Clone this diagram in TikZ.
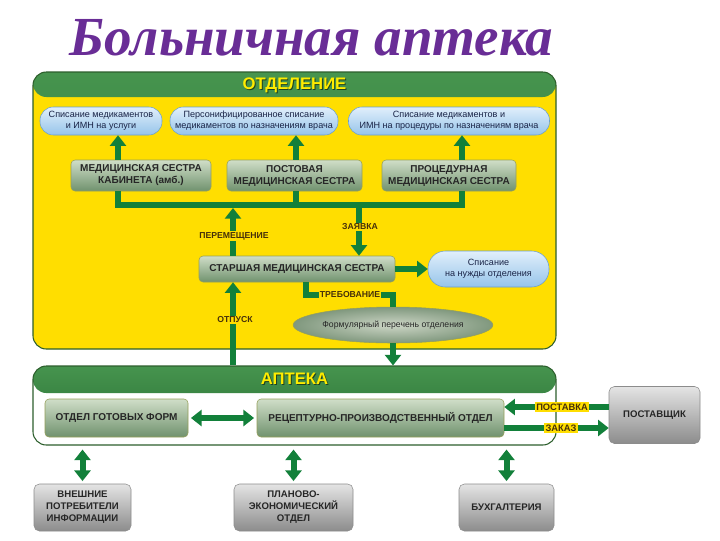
\documentclass[tikz,border=0pt]{standalone}
\usepackage{fontspec}
\setmainfont{Liberation Sans}
\newfontfamily\ttlfont{Liberation Serif}
\usetikzlibrary{arrows.meta,shapes.geometric,calc}
\definecolor{ylw}{RGB}{255,222,0}
\definecolor{grn}{RGB}{18,128,58}
\definecolor{hdTop}{RGB}{70,148,78}
\definecolor{hdBot}{RGB}{38,108,50}
\definecolor{pdk}{RGB}{45,95,45}
\definecolor{purp}{RGB}{105,45,150}
\definecolor{boxTop}{RGB}{208,222,200}
\definecolor{boxBot}{RGB}{112,146,110}
\definecolor{boxEdge}{RGB}{150,160,90}
\definecolor{pillTop}{RGB}{225,239,251}
\definecolor{pillBot}{RGB}{150,196,234}
\definecolor{pillEdge}{RGB}{105,158,205}
\definecolor{grayTop}{RGB}{228,228,228}
\definecolor{grayBot}{RGB}{140,140,140}
\definecolor{lblc}{RGB}{70,48,10}
\definecolor{hdtxt}{RGB}{255,236,0}
\tikzset{
  sz/.style 2 args={minimum width={#1*0.75pt},minimum height={#2*0.75pt}},
  panel/.style={rounded corners=10pt,draw=pdk,line width=0.8pt,inner sep=0pt},
  hdr/.style={path picture={\shade[top color=hdTop,bottom color=hdBot]
      (path picture bounding box.north west) rectangle
      ([yshift=-#1]path picture bounding box.north east);}},
  hdrtxt/.style={font=\bfseries\fontsize{12.5}{13}\selectfont,text=hdtxt,inner sep=0pt},
  hdrsh/.style={font=\bfseries\fontsize{12.5}{13}\selectfont,text=pdk!70!black,inner sep=0pt},
  gbox/.style={rounded corners=3pt,top color=boxTop,bottom color=boxBot,draw=boxEdge,
      line width=0.4pt,font=\bfseries\fontsize{7.5}{9}\selectfont,align=center,
      inner sep=0pt,text=black!85},
  pill/.style={rounded corners=10pt,top color=pillTop,bottom color=pillBot,draw=pillEdge,
      line width=0.4pt,font=\fontsize{6.8}{8.2}\selectfont,align=center,inner sep=0pt,
      text={rgb,255:red,25;green,35;blue,70}},
  ellbox/.style={ellipse,inner color={rgb,255:red,205;green,214;blue,198},
      outer color={rgb,255:red,128;green,152;blue,126},draw=boxEdge,line width=0.4pt,
      font=\fontsize{6.5}{8}\selectfont,inner sep=0pt,text=black!85},
  graybox/.style={rounded corners=4pt,top color=grayTop,bottom color=grayBot,
      draw=black!45,line width=0.4pt,font=\bfseries\fontsize{7.2}{9}\selectfont,
      align=center,inner sep=0pt,text=black!85},
  lbl/.style={fill=ylw,font=\bfseries\fontsize{6.5}{7}\selectfont,text=lblc,inner sep=1pt},
  bus/.style={draw=grn,line width=4.5pt},
  arr/.style={draw=grn,line width=4.5pt,-{Triangle[width=12pt,length=8pt]}},
  darr/.style={draw=grn,line width=4.5pt,{Triangle[width=12pt,length=8pt]}-{Triangle[width=12pt,length=8pt]}},
}
\begin{document}
\begin{tikzpicture}[x=0.75pt,y=-0.75pt]
\useasboundingbox[fill=white] (0,0) rectangle (720,540);

% title
\node[anchor=base,text=purp,font=\ttlfont\bfseries\itshape\fontsize{41.3}{42}\selectfont,inner sep=0pt]
  (title) at (311.5,55) {Больничная аптека};

% department panel
\node[panel,fill=ylw,sz={523}{277},hdr=18.75pt] (otd) at (294.5,210.5) {};
\node[hdrsh] (otdsh) at ($(294.5,85)+(0.7pt,-0.7pt)$) {ОТДЕЛЕНИЕ};
\node[hdrtxt] (otdh) at (294.5,85) {ОТДЕЛЕНИЕ};

\node[pill,sz={122}{28}] (p1) at (101,121) {Списание медикаментов\\и ИМН на услуги};
\node[pill,sz={168}{28}] (p2) at (254,121) {Персонифицированное списание\\медикаментов по назначениям врача};
\node[pill,sz={201}{28}] (p3) at (449,121) {Списание медикаментов и\\ИМН на процедуры по назначениям врача};

\node[gbox,sz={140}{31}] (b1) at (141,175.5) {МЕДИЦИНСКАЯ СЕСТРА\\КАБИНЕТА (амб.)};
\node[gbox,sz={135}{31}] (b2) at (294.5,175.5) {ПОСТОВАЯ\\МЕДИЦИНСКАЯ СЕСТРА};
\node[gbox,sz={134}{31}] (b3) at (449,175.5) {ПРОЦЕДУРНАЯ\\МЕДИЦИНСКАЯ СЕСТРА};

\node[gbox,sz={196}{26}] (sn) at (297,269) {СТАРШАЯ МЕДИЦИНСКАЯ СЕСТРА};
\node[pill,sz={121}{36},rounded corners=13pt] (p4) at (488.5,269) {Списание\\на нужды отделения};
\node[ellbox,sz={156}{36}] (ell) at (393,325) {Формулярный перечень отделения};

% pharmacy panel
\node[panel,fill=white,sz={523}{79},hdr=20.25pt] (apt) at (294.5,405.5) {};
\node[hdrsh] (aptsh) at ($(294.5,379)+(0.7pt,-0.7pt)$) {АПТЕКА};
\node[hdrtxt] (apth) at (294.5,379) {АПТЕКА};
\node[gbox,sz={143}{38}] (ogf) at (116.5,418) {ОТДЕЛ ГОТОВЫХ ФОРМ};
\node[gbox,sz={247}{38}] (rpo) at (380.5,418) {РЕЦЕПТУРНО-ПРОИЗВОДСТВЕННЫЙ ОТДЕЛ};

\node[graybox,sz={91}{57}] (post) at (654.5,415) {ПОСТАВЩИК};
\node[graybox,sz={97}{47}] (ext) at (82.5,507.5) {ВНЕШНИЕ\\ПОТРЕБИТЕЛИ\\ИНФОРМАЦИИ};
\node[graybox,sz={119}{47}] (plan) at (293.5,507.5) {ПЛАНОВО-\\ЭКОНОМИЧЕСКИЙ\\ОТДЕЛ};
\node[graybox,sz={95}{47}] (buh) at (506.5,507.5) {БУХГАЛТЕРИЯ};

% connectors in department
\coordinate (xA) at (118,205);
\coordinate (xB) at (296,205);
\coordinate (xC) at (462,205);
\draw[bus] (b1.south -| xA) -- (xA) -- (xC) -- (b3.south -| xC);
\draw[bus] (b2.south -| xB) -- (xB);
\draw[arr] (b1.north -| xA) -- (p1.south -| xA);
\draw[arr] (b2.north -| xB) -- (p2.south -| xB);
\draw[arr] (b3.north -| xC) -- (p3.south -| xC);

\coordinate (xP) at (233,208);
\coordinate (xZ) at (359,207.5);
\draw[arr] (sn.north -| xP) -- (xP);
\draw[arr] (xZ) -- (sn.north -| xZ);
\node[lbl] (lper) at (234,236) {ПЕРЕМЕЩЕНИЕ};
\node[lbl] (lzay) at (360,227) {ЗАЯВКА};

\draw[arr] (sn.east) -- (p4.west);

\coordinate (tq) at (306,295);
\coordinate (tr) at (393,295);
\draw[bus] (sn.south -| tq) -- (tq) -- (tr) -- (ell.north);
\node[lbl] (ltr) at (350,295) {ТРЕБОВАНИЕ};
\draw[arr] (ell.south) -- (apt.north -| ell.south);

\draw[arr] (apt.north -| xP) -- (sn.south -| xP);
\node[lbl] (lotp) at (235,320) {ОТПУСК};

% pharmacy connectors
\draw[darr,shorten >=2pt,shorten <=2pt] (ogf.east) -- (rpo.west);
\coordinate (yP) at (0,407);
\coordinate (yZ) at (0,428);
\draw[arr] (post.west |- yP) -- (rpo.east |- yP);
\draw[arr] (rpo.east |- yZ) -- (post.west |- yZ);
\node[lbl,font=\bfseries\fontsize{7}{8}\selectfont] (lpos) at (562,407) {ПОСТАВКА};
\node[lbl,font=\bfseries\fontsize{7}{8}\selectfont] (lzak) at (561,428) {ЗАКАЗ};

\draw[darr,shorten >=2pt,shorten <=3pt] (apt.south -| ext.north) -- (ext.north);
\draw[darr,shorten >=2pt,shorten <=3pt] (apt.south -| plan.north) -- (plan.north);
\draw[darr,shorten >=2pt,shorten <=3pt] (apt.south -| buh.north) -- (buh.north);
\end{tikzpicture}
\end{document}
